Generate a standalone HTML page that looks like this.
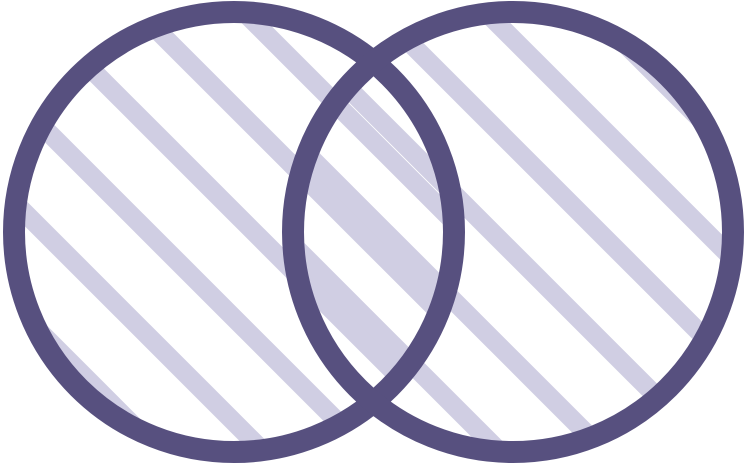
<!DOCTYPE html>
<html><head><meta charset="utf-8"><style>html,body{margin:0;padding:0;background:#fff;overflow:hidden;width:744px;height:464px}svg{display:block}</style></head>
<body>
<svg id="venn" width="744" height="464" viewBox="0 0 744 464" xmlns="http://www.w3.org/2000/svg">
<defs>
<clipPath id="clipL"><circle cx="234" cy="232" r="220"/></clipPath>
<clipPath id="clipR"><circle cx="513" cy="232" r="220"/></clipPath>
</defs>
<g id="hatchL" clip-path="url(#clipL)"></g>
<g id="hatchR" clip-path="url(#clipR)"></g>
<circle cx="234" cy="232" r="220" fill="none" stroke="#57507f" stroke-width="22"/>
<circle cx="513" cy="232" r="220" fill="none" stroke="#57507f" stroke-width="22"/>
</svg>
<script>
const leftOffsets = [-292, -188, -84, 22, 127, 232];
const rightOffsets = [48, 153, 260, 367, 474, 581];
const NS = "http://www.w3.org/2000/svg";
function drawHatch(gid, offs, name) {
  const g = document.getElementById(gid);
  offs.forEach(c => {
    const y1 = Math.max(12, -c + 12);
    const y2 = Math.min(452, 732 - c);
    const l = document.createElementNS(NS, "line");
    l.setAttribute("x1", c + y1); l.setAttribute("y1", y1);
    l.setAttribute("x2", c + y2); l.setAttribute("y2", y2);
    l.setAttribute("stroke", "#d0cee3"); l.setAttribute("stroke-width", "19");
    
    
    g.appendChild(l);
  });
}
drawHatch("hatchL", leftOffsets, "left-hatch-line");
drawHatch("hatchR", rightOffsets, "right-hatch-line");
</script>
</body></html>
